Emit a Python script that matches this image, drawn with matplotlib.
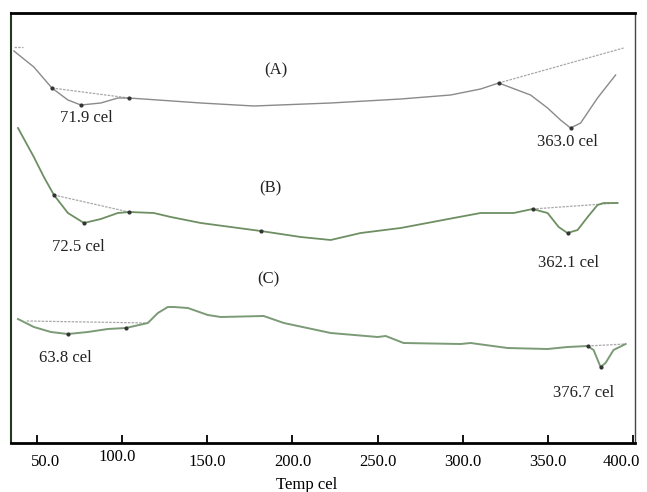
#!/usr/bin/env python3
import matplotlib
matplotlib.use("Agg")
import matplotlib.pyplot as plt
import matplotlib.transforms as mtransforms

# DTA traces, temperature (cel) vs. signal (arbitrary units)
temp_a = [36.5, 48.2, 58.8, 68.2, 75.8, 87.5, 97.5, 104.0, 121.0, 146.2, 177.3,
          222.4, 263.5, 292.8, 310.4, 321.0, 339.7, 349.7, 357.3, 363.2, 369.1,
          379.0, 389.6]
sig_a = [392, 376, 355, 343, 338, 340, 345, 345, 343, 340, 337,
         340, 344, 348, 354, 360, 348, 335, 323, 315, 320,
         345, 368]

temp_b = [38.9, 48.2, 54.1, 60.0, 68.2, 77.6, 87.5, 97.5, 104.0, 118.6, 128.6,
          146.2, 181.4, 204.8, 222.4, 240.0, 263.5, 294.6, 310.4, 329.8, 340.9,
          349.7, 356.2, 361.4, 367.3, 373.2, 379.0, 382.6, 390.8]
sig_b = [315, 286, 266, 248, 230, 220, 224, 230, 231, 230, 226,
         220, 212, 206, 203, 210, 215, 225, 230, 230, 234,
         230, 216, 210, 213, 226, 238, 240, 240]

temp_c = [38.9, 48.2, 58.2, 68.2, 79.9, 91.6, 102.2, 115.1, 121.0, 126.8, 130.4,
          138.6, 150.3, 157.9, 183.1, 194.9, 222.4, 250.0, 254.7, 265.2, 298.7,
          304.5, 326.2, 349.7, 361.4, 373.2, 376.7, 380.8, 383.7, 388.4, 395.5]
sig_c = [124, 116, 111, 109, 111, 114, 115, 120, 130, 136, 136,
         135, 128, 126, 127, 120, 110, 106, 107, 100, 99,
         100, 95, 94, 96, 97, 93, 76, 80, 93, 99]

# peak baselines (start temp, start signal, end temp, end signal)
baselines = [
    (36.5, 396, 41.8, 396),
    (58.8, 355, 104.0, 345),
    (321.0, 360, 394.3, 395),
    (60.0, 248, 104.0, 231),
    (340.9, 234, 390.8, 240),
    (44.0, 122, 115.1, 120),
    (373.2, 97, 395.5, 99),
]

# marked points on the traces
dots_t = [58.8, 75.8, 104.0, 321.0, 363.2, 60.0, 77.6, 104.0, 181.4, 340.9,
          361.4, 68.2, 102.2, 373.2, 380.8]
dots_s = [355, 338, 345, 360, 315, 248, 220, 231, 212, 234,
          210, 109, 115, 97, 76]

# text labels (text, temp, signal)
labels = [
    ("(A)", 190.5, 373),
    ("(B)", 187.0, 255),
    ("(C)", 186.0, 164),
    ("71.9 cel", 79.0, 325),
    ("72.5 cel", 74.5, 196),
    ("63.8 cel", 67.0, 85),
    ("363.0 cel", 361.5, 301),
    ("362.1 cel", 362.0, 180),
    ("376.7 cel", 371.0, 50),
]

x_ticks = [50, 100, 150, 200, 250, 300, 350, 400]
x_tick_labels = ["50.0", "100.0", "150.0", "200.0", "250.0", "300.0", "350.0", "400.0"]


def main() -> None:
    plt.rcParams['font.family'] = ['Liberation Serif', 'DejaVu Serif']

    fig = plt.figure(figsize=(6.47, 4.92), dpi=100)
    ax = fig.add_axes([11 / 647, 49 / 492, 624 / 647, 430 / 492])

    for t0, s0, t1, s1 in baselines:
        ax.plot([t0, t1], [s0, s1], color='#a8a8a8', linewidth=0.9,
                linestyle=(0, (2, 1)))

    ax.plot(temp_a, sig_a, color='#8a8a8a', linewidth=1.0)
    ax.plot(temp_b, sig_b, color='#6e8f62', linewidth=1.3)
    ax.plot(temp_c, sig_c, color='#7b9a76', linewidth=1.4)

    ax.scatter(dots_t, dots_s, s=4, color='#333333', zorder=3)

    for text, t, s in labels:
        ax.text(t, s, text, ha='center', va='center', fontsize=12, color='#222222')

    ax.set_xlim(34.8, 401)
    ax.set_ylim(0, 430)

    ax.set_xticks(x_ticks)
    ax.set_xticklabels(x_tick_labels, fontsize=12)
    ax.set_yticks([])
    ax.tick_params(axis='x', direction='in', length=6, width=1.3, pad=8)

    # nudge a few tick labels like in the original scan
    shifts = {0: (9, 0), 1: (-5, 5), 7: (-12, 0)}
    for i, lab in enumerate(ax.get_xticklabels()):
        if i in shifts:
            dx, dy = shifts[i]
            offset = mtransforms.ScaledTranslation(dx / 100, dy / 100, fig.dpi_scale_trans)
            lab.set_transform(lab.get_transform() + offset)

    ax.set_xlabel("Temp cel", fontsize=12)
    ax.xaxis.set_label_coords(0.474, -0.078)

    ax.spines['top'].set_linewidth(2.0)
    ax.spines['bottom'].set_linewidth(2.0)
    ax.spines['left'].set_linewidth(1.5)
    ax.spines['left'].set_color('#1f3a1f')
    ax.spines['right'].set_linewidth(1.0)
    ax.spines['right'].set_color('#444444')

    fig.savefig("out.png", dpi=100)


if __name__ == '__main__':
    main()
